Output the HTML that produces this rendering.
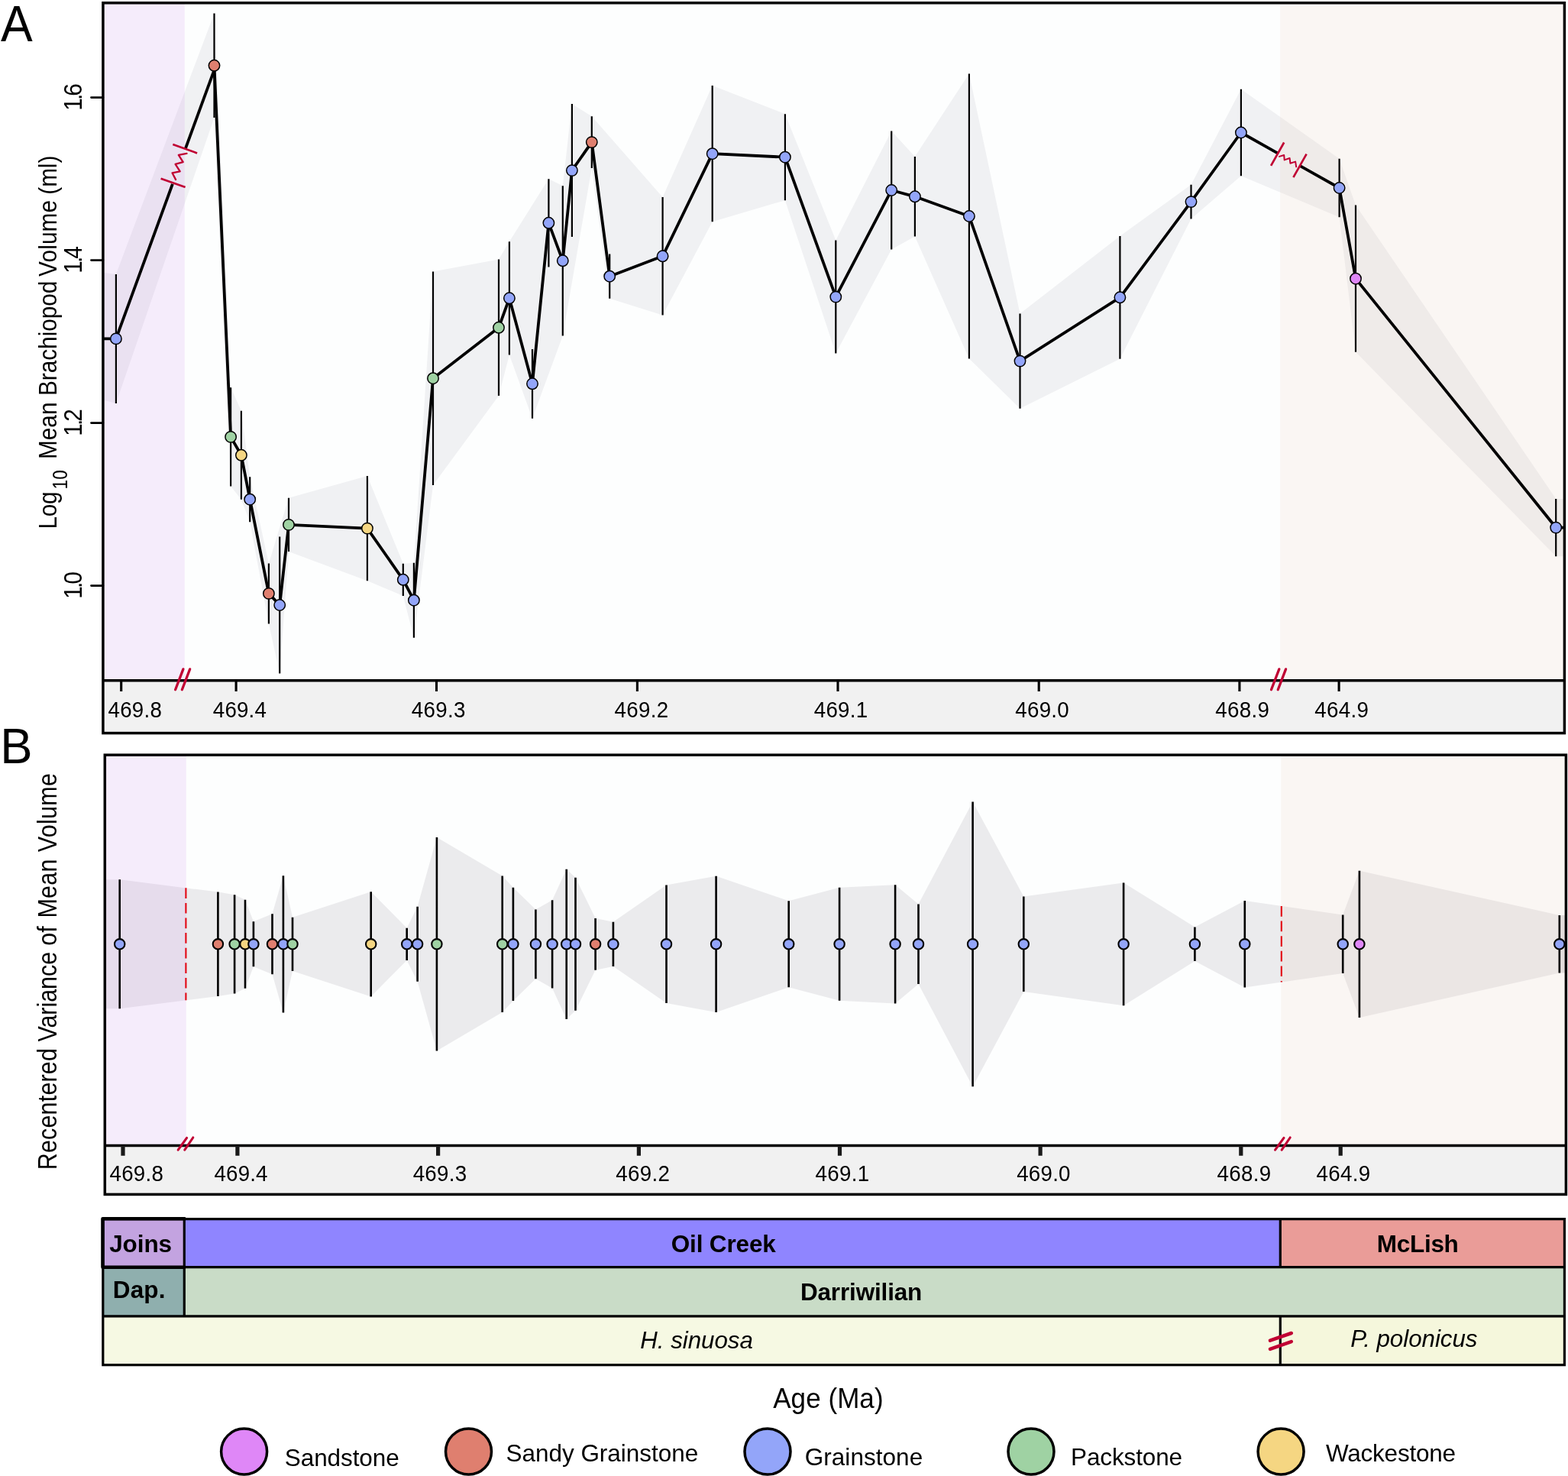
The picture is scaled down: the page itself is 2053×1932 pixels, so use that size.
<!DOCTYPE html>
<html lang="en">
<head>
<meta charset="utf-8">
<title>Brachiopod volume through time</title>
<style>html,body{margin:0;padding:0;background:#fff}svg{display:block}</style>
</head>
<body>
<svg width="2053" height="1932" viewBox="0 0 2053 1932" font-family='"Liberation Sans", Arial, Helvetica, sans-serif' fill="#000">
<rect width="2053" height="1932" fill="#fff"/>
<defs>
<clipPath id="ca"><rect x="134.9" y="3.8" width="1913.5" height="887.0"/></clipPath>
<clipPath id="cb"><rect x="137.3" y="988.2" width="1913.1000000000001" height="511.20000000000005"/></clipPath>
</defs>
<g id="panelA">
<rect x="134.9" y="3.8" width="1913.5" height="887" fill="#fdfefe"/>
<rect x="134.9" y="890.8" width="1913.5" height="68.8" fill="#f1f1f1"/>
<g clip-path="url(#ca)">
<polygon points="134.9,356.8 151.9,358.9 280.5,17.6 302.1,507.3 315.9,537.8 327.2,624.2 351.9,737.4 378,651.8 480.9,623 527.8,737.7 541.9,736.7 567,355.5 653,339.6 666.9,316.2 718.4,234.2 736.8,243.2 748.9,136.1 774.8,152.2 867.6,258.1 932.7,112.1 1027.9,149.2 1094.3,314.6 1167.2,171.4 1197.9,205 1268.9,96.6 1335.5,410.4 1466.4,308.9 1559.5,241.8 1624.9,116.8 1753.6,207.8 1775,268.6 2037.2,652.9 2053.4,652.9 2053.4,728.3 2037.2,728.3 1775,460.8 1753.6,284.2 1624.9,230.2 1559.5,286.4 1466.4,469.7 1335.5,534.8 1268.9,469.4 1197.9,309.6 1167.2,326.6 1094.3,462.6 1027.9,262.2 932.7,290.3 867.6,412.5 798.2,390.8 774.8,220 736.8,439.4 697,547.7 666.9,464.4 653,518 567,634.9 541.9,834.7 527.8,779.9 480.9,760.2 378,722 366.2,881.6 351.9,816.4 327.2,683.2 315.9,653.8 302.1,636.5 280.5,154 151.9,527.9 134.9,523.6" fill="#f0f1f3"/>
<rect x="134.9" y="3.8" width="106.9" height="887" fill="#c886eb" fill-opacity="0.15"/>
<rect x="1676.1" y="3.8" width="372.3" height="887" fill="#e9c8b4" fill-opacity="0.15"/>
<polyline points="129.9,443.4 151.9,443.4 225.9,240.93" fill="none" stroke="#000" stroke-width="3.8" stroke-linejoin="round"/>
<polyline points="242.7,194.97 282.6,85.8" fill="none" stroke="#000" stroke-width="3.8" stroke-linejoin="round"/>
<polyline points="280.5,85.8 302.1,571.9 315.9,595.8 327.2,653.7 351.9,776.9 366.2,792 378,686.9 480.9,691.6 527.8,758.8 541.9,785.7 567,495.2 653,428.8 666.9,390.3 697,502.3 718.4,291.8 736.8,341.3 748.9,223.1 774.8,186.1 798.2,361.7 867.6,335.3 932.7,201.2 1027.9,205.7 1094.3,388.6 1167.2,249 1197.9,257.3 1268.9,283 1335.5,472.6 1466.4,389.3 1559.5,264.1 1624.9,173.5 1672.6,200.37" fill="none" stroke="#000" stroke-width="3.8" stroke-linejoin="round"/>
<polyline points="1702.2,217.05 1753.6,246 1775,364.7 2037.2,690.6 2053.4,690.6" fill="none" stroke="#000" stroke-width="3.8" stroke-linejoin="round"/>
<path d="M151.9 358.9V527.9M280.5 17.6V154M302.1 507.3V636.5M315.9 537.8V653.8M327.2 624.2V683.2M351.9 737.4V816.4M366.2 702.4V881.6M378 651.8V722M480.9 623V760.2M527.8 737.7V779.9M541.9 736.7V834.7M567 355.5V634.9M653 339.6V518M666.9 316.2V464.4M697 456.9V547.7M718.4 234.2V349.4M736.8 243.2V439.4M748.9 136.1V310.1M774.8 152.2V220M798.2 332.6V390.8M867.6 258.1V412.5M932.7 112.1V290.3M1027.9 149.2V262.2M1094.3 314.6V462.6M1167.2 171.4V326.6M1197.9 205V309.6M1268.9 96.6V469.4M1335.5 410.4V534.8M1466.4 308.9V469.7M1559.5 241.8V286.4M1624.9 116.8V230.2M1753.6 207.8V284.2M1775 268.6V460.8M2037.2 652.9V728.3" stroke="#000" stroke-width="2.2" fill="none"/>
<circle cx="151.9" cy="443.4" r="7.2" fill="#93a5f9" stroke="#000" stroke-width="1.5"/>
<circle cx="280.5" cy="85.8" r="7.2" fill="#df7f6f" stroke="#000" stroke-width="1.5"/>
<circle cx="302.1" cy="571.9" r="7.2" fill="#9fd2a3" stroke="#000" stroke-width="1.5"/>
<circle cx="315.9" cy="595.8" r="7.2" fill="#f5d682" stroke="#000" stroke-width="1.5"/>
<circle cx="327.2" cy="653.7" r="7.2" fill="#93a5f9" stroke="#000" stroke-width="1.5"/>
<circle cx="351.9" cy="776.9" r="7.2" fill="#df7f6f" stroke="#000" stroke-width="1.5"/>
<circle cx="366.2" cy="792" r="7.2" fill="#93a5f9" stroke="#000" stroke-width="1.5"/>
<circle cx="378" cy="686.9" r="7.2" fill="#9fd2a3" stroke="#000" stroke-width="1.5"/>
<circle cx="480.9" cy="691.6" r="7.2" fill="#f5d682" stroke="#000" stroke-width="1.5"/>
<circle cx="527.8" cy="758.8" r="7.2" fill="#93a5f9" stroke="#000" stroke-width="1.5"/>
<circle cx="541.9" cy="785.7" r="7.2" fill="#93a5f9" stroke="#000" stroke-width="1.5"/>
<circle cx="567" cy="495.2" r="7.2" fill="#9fd2a3" stroke="#000" stroke-width="1.5"/>
<circle cx="653" cy="428.8" r="7.2" fill="#9fd2a3" stroke="#000" stroke-width="1.5"/>
<circle cx="666.9" cy="390.3" r="7.2" fill="#93a5f9" stroke="#000" stroke-width="1.5"/>
<circle cx="697" cy="502.3" r="7.2" fill="#93a5f9" stroke="#000" stroke-width="1.5"/>
<circle cx="718.4" cy="291.8" r="7.2" fill="#93a5f9" stroke="#000" stroke-width="1.5"/>
<circle cx="736.8" cy="341.3" r="7.2" fill="#93a5f9" stroke="#000" stroke-width="1.5"/>
<circle cx="748.9" cy="223.1" r="7.2" fill="#93a5f9" stroke="#000" stroke-width="1.5"/>
<circle cx="774.8" cy="186.1" r="7.2" fill="#df7f6f" stroke="#000" stroke-width="1.5"/>
<circle cx="798.2" cy="361.7" r="7.2" fill="#93a5f9" stroke="#000" stroke-width="1.5"/>
<circle cx="867.6" cy="335.3" r="7.2" fill="#93a5f9" stroke="#000" stroke-width="1.5"/>
<circle cx="932.7" cy="201.2" r="7.2" fill="#93a5f9" stroke="#000" stroke-width="1.5"/>
<circle cx="1027.9" cy="205.7" r="7.2" fill="#93a5f9" stroke="#000" stroke-width="1.5"/>
<circle cx="1094.3" cy="388.6" r="7.2" fill="#93a5f9" stroke="#000" stroke-width="1.5"/>
<circle cx="1167.2" cy="249" r="7.2" fill="#93a5f9" stroke="#000" stroke-width="1.5"/>
<circle cx="1197.9" cy="257.3" r="7.2" fill="#93a5f9" stroke="#000" stroke-width="1.5"/>
<circle cx="1268.9" cy="283" r="7.2" fill="#93a5f9" stroke="#000" stroke-width="1.5"/>
<circle cx="1335.5" cy="472.6" r="7.2" fill="#93a5f9" stroke="#000" stroke-width="1.5"/>
<circle cx="1466.4" cy="389.3" r="7.2" fill="#93a5f9" stroke="#000" stroke-width="1.5"/>
<circle cx="1559.5" cy="264.1" r="7.2" fill="#93a5f9" stroke="#000" stroke-width="1.5"/>
<circle cx="1624.9" cy="173.5" r="7.2" fill="#93a5f9" stroke="#000" stroke-width="1.5"/>
<circle cx="1753.6" cy="246" r="7.2" fill="#93a5f9" stroke="#000" stroke-width="1.5"/>
<circle cx="1775" cy="364.7" r="7.2" fill="#df87f7" stroke="#000" stroke-width="1.5"/>
<circle cx="2037.2" cy="690.6" r="7.2" fill="#93a5f9" stroke="#000" stroke-width="1.5"/>
</g>
<g stroke="#c00033" stroke-width="2.7" fill="none" stroke-linejoin="round">
<path d="M226.3 189.1L258.1 200.4M210.6 233.8L242.6 245"/>
<path d="M244.5 200.9L233.8 202.8L239.7 212.1L229.6 214.8L235.7 224.4L225.5 226.3L230.1 235.1" stroke-width="2.3" stroke-linecap="round"/>
<path d="M1681.2 186.5L1664.1 216.9M1710.6 201.7L1693.4 232.2"/>
<path d="M1675 204.9L1681.2 203L1681.7 209.4L1688.6 207L1689.4 213.7L1696.1 211.6L1697.2 218.3" stroke-width="2" stroke-linecap="round"/>
</g>
<rect x="134.9" y="3.8" width="1913.5" height="955.8" fill="none" stroke="#000" stroke-width="3.5"/>
<path d="M134.9 890.8H2048.4" stroke="#000" stroke-width="3.5"/>
<path d="M119.5 127.6H134.9M119.5 340.6H134.9M119.5 553.6H134.9M119.5 766.6H134.9" stroke="#000" stroke-width="2.8" stroke-linecap="round"/>
<text transform="translate(106.9 144.8) rotate(-90) scale(1 1.14)" font-size="29.8" dx="0 -2.85 -3">1.6</text>
<text transform="translate(106.9 357.8) rotate(-90) scale(1 1.14)" font-size="29.8" dx="0 -2.85 -3">1.4</text>
<text transform="translate(106.9 570.8) rotate(-90) scale(1 1.14)" font-size="29.8" dx="0 -2.85 -3">1.2</text>
<text transform="translate(106.9 783.8) rotate(-90) scale(1 1.14)" font-size="29.8" dx="0 -2.85 -3">1.0</text>
<path d="M158.7 890.8V904.9M309.1 890.8V904.9M571.5 890.8V904.9M834.4 890.8V904.9M1097 890.8V904.9M1360.2 890.8V904.9M1622.9 890.8V904.9M1753.1 890.8V904.9" stroke="#000" stroke-width="3.1"/>
<text transform="translate(141.45 939.1) scale(1 1.04)" font-size="27.7" letter-spacing="0.29">469.8</text>
<text transform="translate(278.85 939.1) scale(1 1.04)" font-size="27.7" letter-spacing="0.19">469.4</text>
<text transform="translate(538.85 939.1) scale(1 1.04)" font-size="27.7" letter-spacing="0.29">469.3</text>
<text transform="translate(804.45 939.1) scale(1 1.04)" font-size="27.7" letter-spacing="0.33">469.2</text>
<text transform="translate(1065.65 939.1) scale(1 1.04)" font-size="27.7" letter-spacing="0.33">469.1</text>
<text transform="translate(1329.35 939.1) scale(1 1.04)" font-size="27.7" letter-spacing="0.26">469.0</text>
<text transform="translate(1591.25 939.1) scale(1 1.04)" font-size="27.7" letter-spacing="0.33">468.9</text>
<text transform="translate(1721.25 939.1) scale(1 1.04)" font-size="27.7" letter-spacing="0.33">464.9</text>
<path d="M229.6 902.75L239.9 875.85M238.35 902.75L248.65 875.85" stroke="#c00033" stroke-width="3.3" stroke-linecap="round" fill="none"/>
<path d="M1664.5 902.75L1674.8 875.85M1673.25 902.75L1683.55 875.85" stroke="#c00033" stroke-width="3.3" stroke-linecap="round" fill="none"/>
<text transform="translate(74.1 692.38) rotate(-90) scale(1 1.125)" font-size="29.8" letter-spacing="-0.36">Log</text>
<text transform="translate(74.1 601.08) rotate(-90) scale(1 1.125)" font-size="29.8" letter-spacing="0.02">Mean</text>
<text transform="translate(74.1 517.98) rotate(-90) scale(1 1.125)" font-size="29.8" letter-spacing="-0.04">Brachiopod</text>
<text transform="translate(74.1 361.9) rotate(-90) scale(1 1.125)" font-size="29.8" letter-spacing="0.13">Volume</text>
<text transform="translate(74.1 254.69) rotate(-90) scale(1 1.125)" font-size="29.8" letter-spacing="-0.09">(ml)</text>
<text transform="translate(87.6 640.39) rotate(-90) scale(1 1.2)" font-size="22.5" letter-spacing="0.07">10</text>
<text transform="translate(1 54.2) scale(1 1.052)" font-size="62.5">A</text>
</g>
<g id="panelB">
<rect x="137.3" y="988.2" width="1913.1" height="511.2" fill="#fdfefe"/>
<rect x="137.3" y="1499.4" width="1913.1" height="64" fill="#f1f1f1"/>
<g clip-path="url(#cb)">
<polygon points="132.3,1151.3 156.7,1151.3 285.4,1167.6 307.1,1171.2 321,1177.8 331.9,1206.3 356.5,1196.3 370.9,1146.2 383,1200.7 485.7,1167.2 532.7,1214.7 546.6,1186.8 571.9,1096.1 657.7,1146.6 671.9,1161.7 701.4,1190.4 723.1,1178.2 741.7,1137.7 753.5,1148.8 779.6,1201.9 802.9,1206.7 872.5,1158.6 937.6,1146.7 1032.7,1179.3 1099.1,1161.8 1172.1,1158.2 1202.5,1183.5 1273.6,1049.4 1340.3,1173.6 1471.1,1155.4 1564.4,1213.5 1629.8,1179.1 1758.2,1197.6 1779.9,1139.7 2041.8,1198.1 2055.4,1198.1 2055.4,1273.5 2041.8,1273.5 1779.9,1331.9 1758.2,1274 1629.8,1292.5 1564.4,1258.1 1471.1,1316.2 1340.3,1298 1273.6,1422.2 1202.5,1288.1 1172.1,1313.4 1099.1,1309.8 1032.7,1292.3 937.6,1324.9 872.5,1313 802.9,1264.9 779.6,1269.7 753.5,1322.8 741.7,1333.9 723.1,1293.4 701.4,1281.2 671.9,1309.9 657.7,1325 571.9,1375.5 546.6,1284.8 532.7,1256.9 485.7,1304.4 383,1270.9 370.9,1325.4 356.5,1275.3 331.9,1265.3 321,1293.8 307.1,1300.4 285.4,1304 156.7,1320.3 132.3,1320.3" fill="#ebebed"/>
<rect x="137.3" y="988.2" width="106.5" height="511.2" fill="#c886eb" fill-opacity="0.15"/>
<rect x="1677.2" y="988.2" width="373.2" height="511.2" fill="#e9c8b4" fill-opacity="0.15"/>
<rect x="2041.8" y="1198.1" width="12" height="75.4" fill="#000" fill-opacity="0.035"/>
<path d="M243.4 1162.28V1309.32" stroke="#e30613" stroke-width="2.1" stroke-dasharray="13.7 5.9" fill="none"/>
<path d="M1677.8 1186.02V1285.58" stroke="#e30613" stroke-width="2.1" stroke-dasharray="13.7 5.9" fill="none"/>
<path d="M156.7 1151.3V1320.3M285.4 1167.6V1304M307.1 1171.2V1300.4M321 1177.8V1293.8M331.9 1206.3V1265.3M356.5 1196.3V1275.3M370.9 1146.2V1325.4M383 1200.7V1270.9M485.7 1167.2V1304.4M532.7 1214.7V1256.9M546.6 1186.8V1284.8M571.9 1096.1V1375.5M657.7 1146.6V1325M671.9 1161.7V1309.9M701.4 1190.4V1281.2M723.1 1178.2V1293.4M741.7 1137.7V1333.9M753.5 1148.8V1322.8M779.6 1201.9V1269.7M802.9 1206.7V1264.9M872.5 1158.6V1313M937.6 1146.7V1324.9M1032.7 1179.3V1292.3M1099.1 1161.8V1309.8M1172.1 1158.2V1313.4M1202.5 1183.5V1288.1M1273.6 1049.4V1422.2M1340.3 1173.6V1298M1471.1 1155.4V1316.2M1564.4 1213.5V1258.1M1629.8 1179.1V1292.5M1758.2 1197.6V1274M1779.9 1139.7V1331.9M2041.8 1198.1V1273.5" stroke="#000" stroke-width="2.6" fill="none"/>
<circle cx="156.7" cy="1235.8" r="6.7" fill="#93a5f9" stroke="#000" stroke-width="2.1"/>
<circle cx="285.4" cy="1235.8" r="6.7" fill="#df7f6f" stroke="#000" stroke-width="2.1"/>
<circle cx="307.1" cy="1235.8" r="6.7" fill="#9fd2a3" stroke="#000" stroke-width="2.1"/>
<circle cx="321" cy="1235.8" r="6.7" fill="#f5d682" stroke="#000" stroke-width="2.1"/>
<circle cx="331.9" cy="1235.8" r="6.7" fill="#93a5f9" stroke="#000" stroke-width="2.1"/>
<circle cx="356.5" cy="1235.8" r="6.7" fill="#df7f6f" stroke="#000" stroke-width="2.1"/>
<circle cx="370.9" cy="1235.8" r="6.7" fill="#93a5f9" stroke="#000" stroke-width="2.1"/>
<circle cx="383" cy="1235.8" r="6.7" fill="#9fd2a3" stroke="#000" stroke-width="2.1"/>
<circle cx="485.7" cy="1235.8" r="6.7" fill="#f5d682" stroke="#000" stroke-width="2.1"/>
<circle cx="532.7" cy="1235.8" r="6.7" fill="#93a5f9" stroke="#000" stroke-width="2.1"/>
<circle cx="546.6" cy="1235.8" r="6.7" fill="#93a5f9" stroke="#000" stroke-width="2.1"/>
<circle cx="571.9" cy="1235.8" r="6.7" fill="#9fd2a3" stroke="#000" stroke-width="2.1"/>
<circle cx="657.7" cy="1235.8" r="6.7" fill="#9fd2a3" stroke="#000" stroke-width="2.1"/>
<circle cx="671.9" cy="1235.8" r="6.7" fill="#93a5f9" stroke="#000" stroke-width="2.1"/>
<circle cx="701.4" cy="1235.8" r="6.7" fill="#93a5f9" stroke="#000" stroke-width="2.1"/>
<circle cx="723.1" cy="1235.8" r="6.7" fill="#93a5f9" stroke="#000" stroke-width="2.1"/>
<circle cx="741.7" cy="1235.8" r="6.7" fill="#93a5f9" stroke="#000" stroke-width="2.1"/>
<circle cx="753.5" cy="1235.8" r="6.7" fill="#93a5f9" stroke="#000" stroke-width="2.1"/>
<circle cx="779.6" cy="1235.8" r="6.7" fill="#df7f6f" stroke="#000" stroke-width="2.1"/>
<circle cx="802.9" cy="1235.8" r="6.7" fill="#93a5f9" stroke="#000" stroke-width="2.1"/>
<circle cx="872.5" cy="1235.8" r="6.7" fill="#93a5f9" stroke="#000" stroke-width="2.1"/>
<circle cx="937.6" cy="1235.8" r="6.7" fill="#93a5f9" stroke="#000" stroke-width="2.1"/>
<circle cx="1032.7" cy="1235.8" r="6.7" fill="#93a5f9" stroke="#000" stroke-width="2.1"/>
<circle cx="1099.1" cy="1235.8" r="6.7" fill="#93a5f9" stroke="#000" stroke-width="2.1"/>
<circle cx="1172.1" cy="1235.8" r="6.7" fill="#93a5f9" stroke="#000" stroke-width="2.1"/>
<circle cx="1202.5" cy="1235.8" r="6.7" fill="#93a5f9" stroke="#000" stroke-width="2.1"/>
<circle cx="1273.6" cy="1235.8" r="6.7" fill="#93a5f9" stroke="#000" stroke-width="2.1"/>
<circle cx="1340.3" cy="1235.8" r="6.7" fill="#93a5f9" stroke="#000" stroke-width="2.1"/>
<circle cx="1471.1" cy="1235.8" r="6.7" fill="#93a5f9" stroke="#000" stroke-width="2.1"/>
<circle cx="1564.4" cy="1235.8" r="6.7" fill="#93a5f9" stroke="#000" stroke-width="2.1"/>
<circle cx="1629.8" cy="1235.8" r="6.7" fill="#93a5f9" stroke="#000" stroke-width="2.1"/>
<circle cx="1758.2" cy="1235.8" r="6.7" fill="#93a5f9" stroke="#000" stroke-width="2.1"/>
<circle cx="1779.9" cy="1235.8" r="6.7" fill="#df87f7" stroke="#000" stroke-width="2.1"/>
<circle cx="2041.8" cy="1235.8" r="6.7" fill="#93a5f9" stroke="#000" stroke-width="2.1"/>
</g>
<rect x="137.3" y="988.2" width="1913.1" height="575.2" fill="none" stroke="#000" stroke-width="3.5"/>
<path d="M137.3 1499.4H2050.4" stroke="#000" stroke-width="3.5"/>
<path d="M161 1499.4V1512.8M310.9 1499.4V1512.8M573.6 1499.4V1512.8M836.4 1499.4V1512.8M1099.5 1499.4V1512.8M1362.1 1499.4V1512.8M1624.8 1499.4V1512.8M1755.2 1499.4V1512.8" stroke="#1a1a1a" stroke-width="5.2"/>
<text transform="translate(143.45 1545.8) scale(1 1.04)" font-size="27.7" letter-spacing="0.29">469.8</text>
<text transform="translate(280.45 1545.8) scale(1 1.04)" font-size="27.7" letter-spacing="0.19">469.4</text>
<text transform="translate(540.65 1545.8) scale(1 1.04)" font-size="27.7" letter-spacing="0.29">469.3</text>
<text transform="translate(806.25 1545.8) scale(1 1.04)" font-size="27.7" letter-spacing="0.33">469.2</text>
<text transform="translate(1067.45 1545.8) scale(1 1.04)" font-size="27.7" letter-spacing="0.33">469.1</text>
<text transform="translate(1331.15 1545.8) scale(1 1.04)" font-size="27.7" letter-spacing="0.26">469.0</text>
<text transform="translate(1593.45 1545.8) scale(1 1.04)" font-size="27.7" letter-spacing="0.33">468.9</text>
<text transform="translate(1723.45 1545.8) scale(1 1.04)" font-size="27.7" letter-spacing="0.33">464.9</text>
<path d="M233.2 1505.2L244.6 1489.4M241.8 1505.2L252.8 1489" stroke="#c00033" stroke-width="3.1" stroke-linecap="round" fill="none"/>
<path d="M1669.6 1505.2L1681 1489.4M1678.2 1505.2L1689.2 1489" stroke="#c00033" stroke-width="3.1" stroke-linecap="round" fill="none"/>
<text transform="translate(73.9 1531.24) rotate(-90) scale(1 1.15)" font-size="30.5" letter-spacing="0.17">Recentered</text>
<text transform="translate(73.9 1363.6) rotate(-90) scale(1 1.15)" font-size="30.5" letter-spacing="-0.04">Variance</text>
<text transform="translate(73.9 1237.72) rotate(-90) scale(1 1.15)" font-size="30.5">of</text>
<text transform="translate(73.9 1201.54) rotate(-90) scale(1 1.15)" font-size="30.5" letter-spacing="0.2">Mean</text>
<text transform="translate(73.9 1115.3) rotate(-90) scale(1 1.15)" font-size="30.5" letter-spacing="0.32">Volume</text>
<text transform="translate(0.3 999.2) scale(1 1.035)" font-size="63.5">B</text>
</g>
<g id="bars">
<rect x="134.8" y="1595.6" width="106.5" height="63.1" fill="#c3a3e0"/>
<rect x="241.3" y="1595.6" width="1435" height="63.1" fill="#8f85ff"/>
<rect x="1676.3" y="1595.6" width="372.1" height="63.1" fill="#ea9c98"/>
<rect x="134.8" y="1658.7" width="106.5" height="64.1" fill="#8fafae"/>
<rect x="241.3" y="1658.7" width="1807.1" height="64.1" fill="#c9dcc7"/>
<rect x="134.8" y="1722.8" width="1541.5" height="63.8" fill="#f6f9e3"/>
<rect x="1676.3" y="1722.8" width="372.1" height="63.8" fill="#f5f7dc"/>
<path d="M134.8 1595.6H2048.4V1786.6H134.8ZM134.8 1658.7H2048.4M134.8 1722.8H2048.4M241.3 1595.6V1722.8M1676.3 1595.6V1658.7M1676.3 1722.8V1786.6" fill="none" stroke="#000" stroke-width="3.2"/>
<path d="M242.9 1595.1999999999998H134.5V1658.7H242.9" fill="none" stroke="#000" stroke-width="4.6" stroke-linejoin="round"/>
<path d="M1663 1754.7L1690.8 1745M1663 1765.8L1690.8 1756.1" stroke="#c00033" stroke-width="4.6" stroke-linecap="round" fill="none"/>
<text transform="translate(143.13 1639) scale(1 1.02)" font-size="31.5" font-weight="bold" letter-spacing="-0.07">Joins</text>
<text transform="translate(878.74 1638.6) scale(1 1.02)" font-size="31.5" font-weight="bold" letter-spacing="-0.15">Oil Creek</text>
<text transform="translate(1802.75 1638.6) scale(1 1.02)" font-size="31.5" font-weight="bold" letter-spacing="-0.27">McLish</text>
<text transform="translate(147.85 1698.9) scale(1 1.02)" font-size="31.5" font-weight="bold" letter-spacing="0.14">Dap.</text>
<text transform="translate(1047.95 1702.4) scale(1 1.02)" font-size="31.5" font-weight="bold" letter-spacing="-0.16">Darriwilian</text>
<text transform="translate(838.26 1764.8) scale(1 1.02)" font-size="31.3" font-style="italic" letter-spacing="-0.03">H. sinuosa</text>
<text transform="translate(1768.36 1763.2) scale(1 1.02)" font-size="31.3" font-style="italic" letter-spacing="-0.03">P. polonicus</text>
</g>
<g id="legend">
<text transform="translate(1012.2 1842.5) scale(1 1.04)" font-size="35" letter-spacing="0.07">Age (Ma)</text>
<circle cx="319.6" cy="1900.1" r="30" fill="#df87f7" stroke="#000" stroke-width="3.5"/>
<text transform="translate(372.78 1918.5) scale(1 1.02)" font-size="31.5" letter-spacing="-0.08">Sandstone</text>
<circle cx="613.5" cy="1900.1" r="30" fill="#df7f6f" stroke="#000" stroke-width="3.5"/>
<text transform="translate(662.38 1913.3) scale(1 1.02)" font-size="31.5">Sandy Grainstone</text>
<circle cx="1005" cy="1900.1" r="30" fill="#93a5f9" stroke="#000" stroke-width="3.5"/>
<text transform="translate(1053.72 1918.1) scale(1 1.02)" font-size="31.5" letter-spacing="0.05">Grainstone</text>
<circle cx="1350" cy="1900.1" r="30" fill="#9fd2a3" stroke="#000" stroke-width="3.5"/>
<text transform="translate(1402.08 1918.1) scale(1 1.02)" font-size="31.5" letter-spacing="-0.13">Packstone</text>
<circle cx="1677.1" cy="1900.1" r="30" fill="#f5d682" stroke="#000" stroke-width="3.5"/>
<text transform="translate(1735.9 1913.3) scale(1 1.02)" font-size="31.5" letter-spacing="-0.21">Wackestone</text>
</g>
</svg>
</body>
</html>
